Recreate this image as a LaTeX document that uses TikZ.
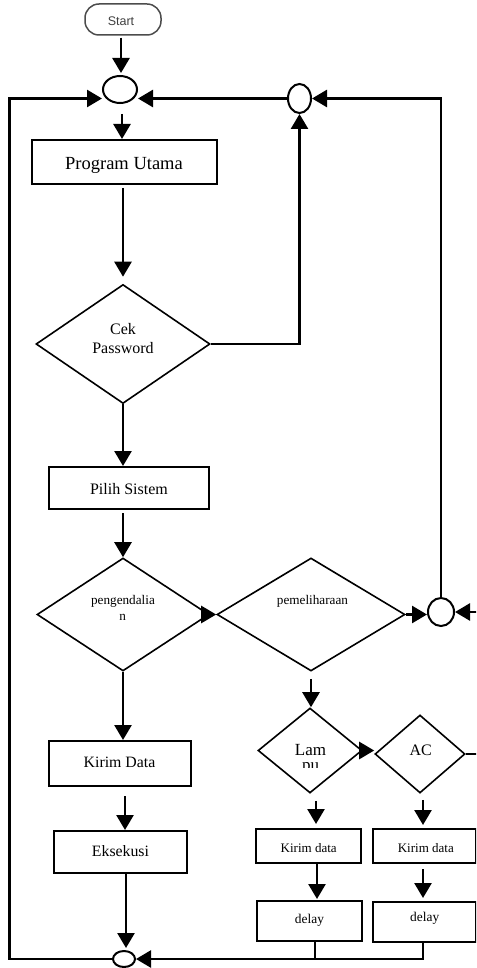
\documentclass[tikz,border=0pt]{standalone}
\usepackage{fontspec}
\setmainfont{Liberation Serif}
\newfontfamily\startfont{Liberation Sans}
\usetikzlibrary{arrows.meta,shapes.geometric,calc}
\newcommand\myfs[1]{\fontsize{#1}{#1}\selectfont}
\begin{document}
\begin{tikzpicture}[x=1pt,y=-1pt,
  conn/.style={line width=2.6pt},
  arr/.style={conn,-{Triangle[length=15pt,width=17pt]}},
  box/.style={draw,line width=2pt,rectangle,inner sep=0pt},
  dia/.style={draw,line width=1.6pt,diamond,inner sep=0pt},
  junc/.style={draw,line width=2pt,ellipse,inner sep=0pt},
  txt/.style={anchor=base,inner sep=0pt}]
\useasboundingbox (0,0) rectangle (476,968);
\clip (0,0) rectangle (476,968);

% nodes
\node[draw=black!70,line width=1.5pt,rounded corners=14pt,minimum width=76pt,minimum height=31pt,inner sep=0pt] (start) at (123,19.5) {};
\node[txt,font=\startfont\myfs{12.5},text=black!75] (starttxt) at (121,26) {Start};

\node[junc,minimum width=34pt,minimum height=27pt] (c1) at (120,89.5) {};
\node[junc,minimum width=23pt,minimum height=29pt] (c2) at (299.5,98.5) {};
\node[junc,minimum width=26pt,minimum height=28pt] (c3) at (441,612) {};
\node[junc,minimum width=22pt,minimum height=16pt] (c4) at (124,959) {};

\node[box,minimum width=185pt,minimum height=44pt] (pu) at (124.5,162) {};
\node[txt,font=\myfs{18.5}] (putxt) at (124,169.3) {Program Utama};

\node[dia,minimum width=174pt,minimum height=119pt] (cek) at (123,344) {};
\node[txt,font=\myfs{16}] (cektxt1) at (123,334) {Cek};
\node[txt,font=\myfs{16}] (cektxt2) at (123,353) {Password};

\node[box,minimum width=160pt,minimum height=42pt] (ps) at (129,488) {};
\node[txt,font=\myfs{16}] (pstxt) at (129,494) {Pilih Sistem};

\node[dia,minimum width=172pt,minimum height=113pt] (peng) at (123,614.5) {};
\node[txt,font=\myfs{13.2}] (pengtxt1) at (123,604) {pengendalia};
\node[txt,font=\myfs{13.2}] (pengtxt2) at (122.7,620) {n};

\node[dia,minimum width=188pt,minimum height=113pt] (pem) at (311,614.5) {};
\node[txt,font=\myfs{13.2}] (pemtxt) at (312.5,604) {pemeliharaan};

\node[box,minimum width=142pt,minimum height=45pt] (kd) at (120,763.5) {};
\node[txt,font=\myfs{15.8}] (kdtxt) at (119.5,767.3) {Kirim Data};

\node[box,minimum width=133pt,minimum height=42pt] (ek) at (120.5,852) {};
\node[txt,font=\myfs{15.8}] (ektxt) at (120.5,856) {Eksekusi};

\node[dia,minimum width=104pt,minimum height=85pt] (lampu) at (310,750.5) {};
\begin{scope}
\clip (250,700) rectangle (370,767.5);
\node[inner sep=0pt,align=center,font=\fontsize{17}{15}\selectfont] (lamtxt) at (310.5,759.5) {Lam\\pu};
\end{scope}

\node[dia,minimum width=90pt,minimum height=78pt] (ac) at (420,754) {};
\node[txt,font=\myfs{16}] (actxt) at (420.8,755) {AC};

\node[box,minimum width=105pt,minimum height=34pt] (kd1) at (308.5,846) {};
\node[txt,font=\myfs{13}] (kd1txt) at (308.7,852.7) {Kirim data};
\node[box,minimum width=103pt,minimum height=34pt] (kd2) at (424.5,846) {};
\node[txt,font=\myfs{13}] (kd2txt) at (425.8,852.7) {Kirim data};

\node[box,minimum width=105pt,minimum height=40pt] (dl1) at (309.5,921) {};
\node[txt,font=\myfs{13.4}] (dl1txt) at (309.5,923) {delay};
\node[box,minimum width=103pt,minimum height=40pt] (dl2) at (424.5,922) {};
\node[txt,font=\myfs{13.4}] (dl2txt) at (424.7,921.7) {delay};

\coordinate (lcorner) at (9.5,98.5);
\coordinate (rcorner) at (441,98.5);

% connectors
\draw[arr,shorten <=2pt,shorten >=2pt] ([xshift=-2pt]start.south) -- ([xshift=-2pt]start.south |- c1.north);
\draw[arr,shorten <=10pt] ([xshift=2pt]c1.south) -- ([xshift=2pt]c1.south |- pu.north);
\draw[arr,shorten <=3pt,shorten >=7pt] (pu.south -| cek.north) -- (cek.north);
\draw[arr] (cek.south) -- (cek.south |- ps.north);
\draw[arr,shorten <=3pt] (ps.south -| peng.north) -- (peng.north);
\draw[arr] (peng.east) -- (pem.west);
\draw[arr] (pem.east) -- (pem.east -| c3.west);
\draw[arr] (peng.south) -- (peng.south |- kd.north);
\draw[arr,shorten <=9pt] ([xshift=5pt]kd.south) -- ([xshift=5pt]kd.south |- ek.north);
\draw[arr,shorten >=2pt] ([xshift=5.5pt]ek.south) -- ([xshift=5.5pt]ek.south |- c4.north);
\draw[arr] (c4.west) -| (lcorner) -- (c1.west |- lcorner);
\draw[arr] (c2.west) -- (c2.west -| c1.east);
\draw[arr] (c3.north) -- (rcorner) -- (c2.east);
\draw[arr] (cek.east) -| (c2.south);
\draw[arr,shorten <=7pt] (pem.south) -- (pem.south |- lampu.north);
\draw[arr] (lampu.east) -- (lampu.east -| ac.west);
\draw[arr] (ac.east) -- ++(20,0) |- (c3.east);
\draw[arr,shorten <=7pt,shorten >=4pt] ([xshift=6pt]lampu.south) -- ([xshift=6pt]lampu.south |- kd1.north);
\draw[arr,shorten <=6pt,shorten >=3pt] ([xshift=3pt]ac.south) -- ([xshift=3pt]ac.south |- kd2.north);
\draw[arr,shorten >=1pt] ([xshift=8.5pt]kd1.south) -- ([xshift=8.5pt]kd1.south |- dl1.north);
\draw[arr,shorten <=5pt,shorten >=3pt] ([xshift=-1.5pt]kd2.south) -- ([xshift=-1.5pt]kd2.south |- dl2.north);
\draw[conn] ([xshift=5.5pt]dl1.south) -- ([xshift=5.5pt]dl1.south |- c4.east);
\draw[arr] ([xshift=-1.5pt]dl2.south) |- (c4.east);
\end{tikzpicture}
\end{document}
